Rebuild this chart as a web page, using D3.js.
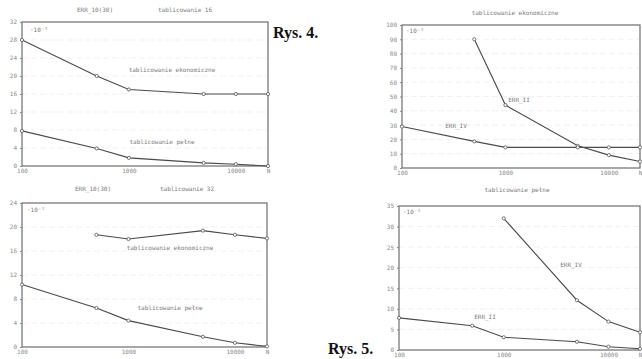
<!DOCTYPE html>
<html><head><meta charset="utf-8">
<script src="https://cdn.jsdelivr.net/npm/d3@7"></script>
<style>
html,body{margin:0;padding:0;background:#fff;}
svg{display:block;}
.ax text{font-family:"DejaVu Sans Mono",monospace;font-size:6px;fill:#8a8a8a;}
.lbl{font-family:"DejaVu Sans Mono",monospace;font-size:6px;fill:#7a7a7a;}
.rys{font-family:"Liberation Serif","Times New Roman",serif;font-weight:bold;font-size:16px;fill:#111;}
</style></head>
<body>
<svg id="c" width="642" height="359"></svg>
<script>
// ---- data ----
const nValues = [100, 500, 1000, 5000, 10000, 20000];
const xTickValues = [100, 1000, 10000, 20000];
const xTickLabels = ["100", "1000", "10000", "N"];

const p1Ticks = [0, 4, 8, 12, 16, 20, 24, 28, 32];
const p1Ekonomiczne = [28, 20, 17, 16, 16, 16];
const p1Pelne = [7.8, 3.9, 1.8, 0.7, 0.4, 0];

const p2Ticks = [0, 10, 20, 30, 40, 50, 60, 70, 80, 90, 100];
const p2ErrII = [null, 90, 44, 15.5, 9, 4.5];
const p2ErrIV = [29, 18.6, 14.4, 14.4, 14.4, 14.4];

const p3Ticks = [0, 4, 8, 12, 16, 20, 24];
const p3Ekonomiczne = [null, 18.7, 18.0, 19.4, 18.7, 18.1];
const p3Pelne = [10.4, 6.5, 4.4, 1.7, 0.7, 0.1];

const p4Ticks = [0, 5, 10, 15, 20, 25, 30, 35];
const p4ErrIV = [null, null, 32, 12.1, 6.9, 4.3];
const p4ErrII = [7.8, 5.9, 3.1, 2.0, 0.8, 0.3];

const unitLabel = "·10⁻⁵";

// ---- panels (layout) ----
const panels = [
  {x0: 22, x1: 268, y0: 22, y1: 166, ticks: p1Ticks,
   titles: [{t: "ERR_10(30)", x: 95, y: 12}, {t: "tablicowanie 16", x: 185, y: 12}],
   unit: {x: 30, y: 32},
   series: [{v: p1Ekonomiczne, label: "tablicowanie ekonomiczne", lx: 172, ly: 72},
            {v: p1Pelne, label: "tablicowanie pełne", lx: 162, ly: 144}]},
  {x0: 402, x1: 640, y0: 25, y1: 168, ticks: p2Ticks,
   titles: [{t: "tablicowanie ekonomiczne", x: 515, y: 15}],
   unit: {x: 406, y: 33},
   series: [{v: p2ErrII, label: "ERR_II", lx: 519, ly: 102},
            {v: p2ErrIV, label: "ERR_IV", lx: 456, ly: 128}]},
  {x0: 22, x1: 267, y0: 203, y1: 347, ticks: p3Ticks,
   titles: [{t: "ERR_10(30)", x: 93, y: 191}, {t: "tablicowanie 32", x: 187, y: 191}],
   unit: {x: 27, y: 212},
   series: [{v: p3Ekonomiczne, label: "tablicowanie ekonomiczne", lx: 170, ly: 250},
            {v: p3Pelne, label: "tablicowanie pełne", lx: 170, ly: 310}]},
  {x0: 399, x1: 640, y0: 206, y1: 350, ticks: p4Ticks,
   titles: [{t: "tablicowanie pełne", x: 517, y: 192}],
   unit: {x: 403, y: 214},
   series: [{v: p4ErrIV, label: "ERR_IV", lx: 571, ly: 267},
            {v: p4ErrII, label: "ERR_II", lx: 485, ly: 319}]}
];

const svg = d3.select("#c");

panels.forEach(p => {
  const x = d3.scaleLog().domain([100, 20000]).range([p.x0, p.x1]);
  const y = d3.scaleLinear().domain([0, d3.max(p.ticks)]).range([p.y1, p.y0]);
  const g = svg.append("g");

  g.append("g").selectAll("line").data(p.ticks.slice(1, -1)).join("line")
    .attr("x1", p.x0).attr("x2", p.x1)
    .attr("y1", d => y(d)).attr("y2", d => y(d))
    .attr("stroke", "#ededed").attr("stroke-width", 0.8).attr("stroke-dasharray", "6,3");

  g.append("rect").attr("x", p.x0).attr("y", p.y0)
    .attr("width", p.x1 - p.x0).attr("height", p.y1 - p.y0)
    .attr("fill", "none").attr("stroke", "#6d6d6d").attr("stroke-width", 1.2);

  const ya = g.append("g").attr("class", "ax").attr("transform", `translate(${p.x0},0)`)
    .call(d3.axisLeft(y).tickValues(p.ticks).tickSize(2).tickPadding(3).tickFormat(d3.format("d")));
  ya.select(".domain").remove();
  ya.selectAll("line").attr("stroke", "#888");
  const xa = g.append("g").attr("class", "ax").attr("transform", `translate(0,${p.y1})`)
    .call(d3.axisBottom(x).tickValues(xTickValues).tickSize(0).tickPadding(3)
      .tickFormat((d, i) => xTickLabels[i]));
  xa.select(".domain").remove();

  p.titles.forEach(t => g.append("text").attr("class", "lbl").attr("x", t.x).attr("y", t.y)
    .attr("text-anchor", "middle").text(t.t));
  g.append("text").attr("class", "lbl").attr("x", p.unit.x).attr("y", p.unit.y).text(unitLabel);

  p.series.forEach(s => {
    const pts = nValues.map((n, i) => ({n, v: s.v[i]})).filter(d => d.v !== null);
    g.append("path").datum(pts)
      .attr("d", d3.line().x(d => x(d.n)).y(d => y(d.v)))
      .attr("fill", "none").attr("stroke", "#4a4a4a").attr("stroke-width", 1.1);
    g.append("g").selectAll("circle").data(pts).join("circle")
      .attr("cx", d => x(d.n)).attr("cy", d => y(d.v)).attr("r", 1.6)
      .attr("fill", "#fff").attr("stroke", "#555").attr("stroke-width", 0.8);
    g.append("text").attr("class", "lbl").attr("x", s.lx).attr("y", s.ly)
      .attr("text-anchor", "middle").text(s.label);
  });
});

svg.append("text").attr("class", "rys").attr("x", 273).attr("y", 38).text("Rys. 4.");
svg.append("text").attr("class", "rys").attr("x", 328).attr("y", 354).text("Rys. 5.");
</script>
</body></html>
